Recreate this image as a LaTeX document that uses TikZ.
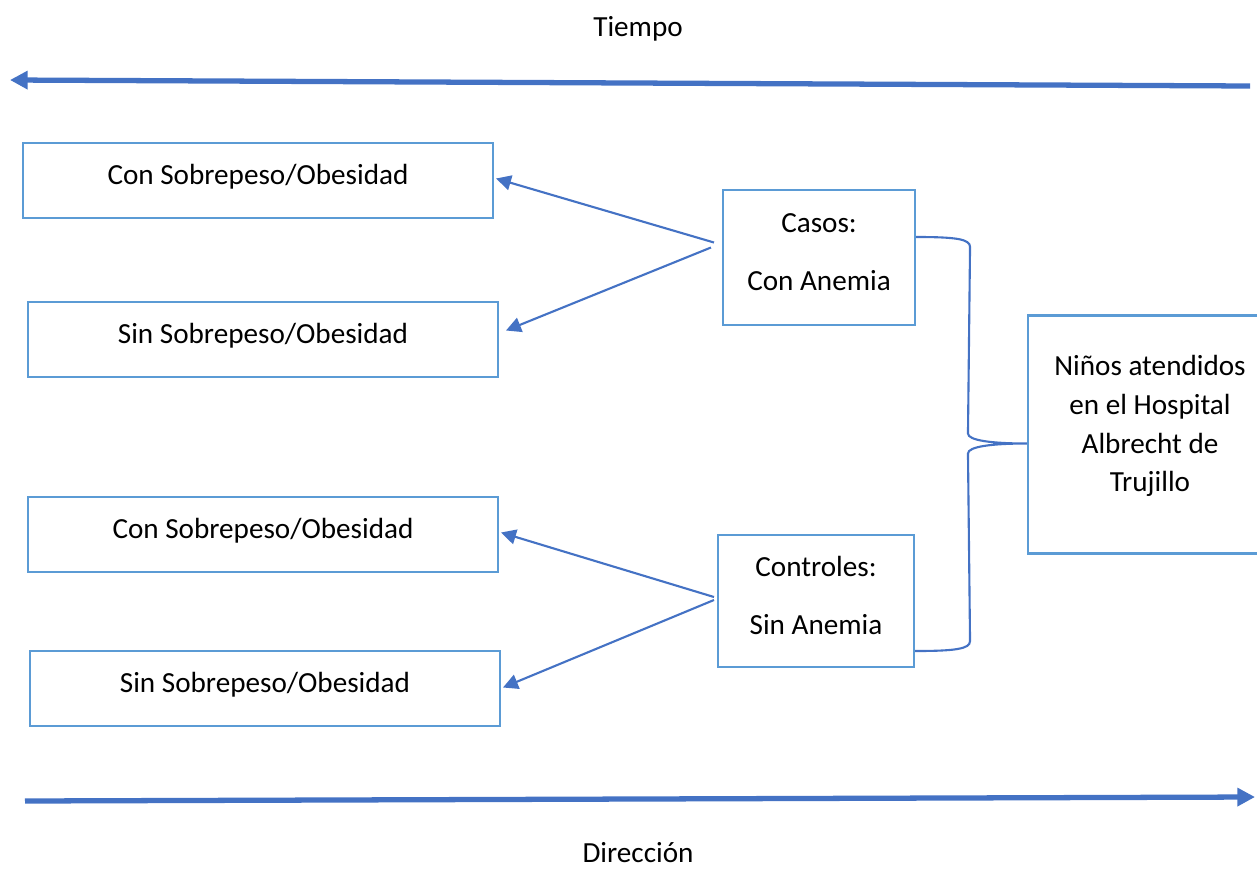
\documentclass[tikz,border=0pt]{standalone}
\usepackage{fontspec}
\setmainfont{Carlito}
\usetikzlibrary{calc,arrows.meta}
\definecolor{cajaazul}{RGB}{91,155,213}
\definecolor{flechaazul}{RGB}{68,114,196}

\begin{document}
\begin{tikzpicture}[x=0.02cm,y=-0.02cm]
    \tikzstyle{every node}=[font=\fontsize{16.6}{22}\selectfont, align=center]
    \tikzstyle{grupo}=[draw=cajaazul, line width=1.2pt, minimum width=9.4cm, minimum height=1.5cm, inner sep=0, text height=11pt, text depth=6.5pt]
    \tikzstyle{conector}=[draw=flechaazul, line width=1.2pt, -{Triangle[length=8.5pt,width=8.5pt]}]
    \tikzstyle{eje}=[draw=flechaazul, line width=3pt, -{Triangle[length=10pt,width=10pt]}]
    \useasboundingbox (0,0) rectangle (1257,869);
    % ejes de tiempo y direccion
    \node[anchor=base] (T) at (638,36) {Tiempo};
    \node[anchor=base, inner sep=0] (D) at (638,862) {Dirección};
    \coordinate (T0) at (1250,86);
    \coordinate (T1) at (10,80);
    \coordinate (D0) at (25,801);
    \coordinate (D1) at (1255,797);
    \draw[eje] (T0) -- (T1);
    \draw[eje] (D0) -- (D1);
    % grupos de exposicion
    \node[grupo] (CS1) at (258,180.5) {Con Sobrepeso/Obesidad};
    \node[grupo] (SS1) at (263,339.5) {Sin Sobrepeso/Obesidad};
    \node[grupo] (CS2) at (263,534.5) {Con Sobrepeso/Obesidad};
    \node[grupo] (SS2) at (265,688.5) {Sin Sobrepeso/Obesidad};
    \node[grupo, minimum width=3.84cm, minimum height=2.7cm, text height=, text depth=6.5pt] (Casos) at (819,257.5) {Casos:\\[11pt]Con Anemia};
    \node[grupo, minimum width=3.92cm, minimum height=2.64cm, text height=, text depth=5.9pt] (Controles) at (816,601) {Controles:\\[11pt]Sin Anemia};
    \node[grupo, minimum width=4.88cm, minimum height=4.76cm, text height=, text depth=12.3pt] (Ninos) at (1150,434.5) {Niños atendidos\\en el Hospital\\Albrecht de\\Trujillo};
    \coordinate (c1) at ($(Casos.west)+(-8,-15)$);
    \coordinate (c2) at ($(Casos.west)+(-11,-10)$);
    \coordinate (k1) at ($(Controles.west)+(-3,-4)$);
    \coordinate (k2) at ($(Controles.west)+(-3,-1)$);
    \draw[conector] (c1) -- ($(CS1.east)+(2,-2)$);
    \draw[conector] (c2) -- ($(SS1.east)+(7,-9)$);
    \draw[conector] (k1) -- ($(CS2.east)+(2,-2)$);
    \draw[conector] (k2) -- ($(SS2.east)+(2,-1)$);
    % llave
    \coordinate (L0) at ($(Casos.east)+(0,-20.5)$);
    \coordinate (L1) at ($(Ninos.west)+(0,9)$);
    \coordinate (L2) at ($(Controles.east)+(0,50)$);
    \draw[draw=flechaazul, line width=1.2pt] (L0) .. controls ($(L0)+(40,0)$) and ($(L0)+(54,2)$) .. ($(L0)+(54,10)$)
        -- ($(L1)+(-59,-10)$) .. controls ($(L1)+(-59,-3)$) and ($(L1)+(-35,0)$) .. (L1)
        .. controls ($(L1)+(-35,0)$) and ($(L1)+(-59,3)$) .. ($(L1)+(-59,10)$)
        -- ($(L2)+(55,-10)$) .. controls ($(L2)+(55,-2)$) and ($(L2)+(40,0)$) .. (L2);
\end{tikzpicture}
\end{document}
